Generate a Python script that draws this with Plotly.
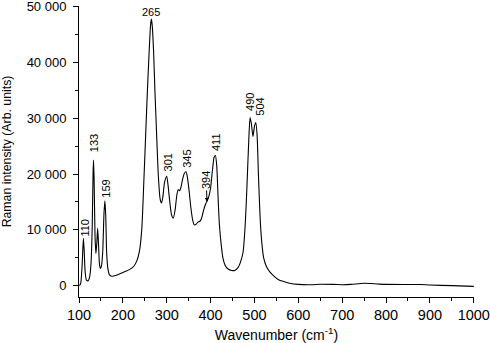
import plotly.graph_objects as go

wavenumber = [101, 104, 107, 110, 112, 114, 117, 121, 124, 127, 130, 132, 133, 134.5, 136.5, 138.5,
              140.5, 142.5, 144.5, 146.5, 148.5, 151, 154, 157, 159, 161, 163, 166, 170, 176,
              185, 200, 215, 225, 232, 238, 243, 248, 252, 256, 260, 263, 265, 267, 270, 273,
              277, 281, 285, 288, 291, 295, 300, 303, 307, 311, 315, 319, 323, 326, 329, 332,
              336, 340, 344, 347, 351, 355, 359, 363, 367, 371, 375, 379, 384, 388, 392, 396,
              400, 404, 408, 411, 414, 417, 420, 424, 428, 433, 440, 448, 455, 462, 468, 474,
              479, 483, 487, 490, 493, 496.5, 500, 503, 506, 509, 513, 517, 521, 527, 535, 545,
              555, 565, 580, 600, 630, 650, 680, 700, 720, 750, 780, 800, 850, 880, 900, 950, 1000]
intensity = [0, 500, 3500, 8500, 6000, 2500, 1000, 900, 1500, 3500, 10000, 20000, 22500, 19000, 9000, 5800,
             7500, 10300, 7500, 4000, 3100, 3500, 6000, 13000, 15200, 12500, 6000, 3000, 1900, 1700,
             1900, 2400, 2900, 3500, 4500, 6300, 10000, 19000, 27000, 35000, 42000, 46500, 47700, 46500, 42000, 35000,
             27000, 19500, 15500, 14800, 15800, 18500, 19600, 18000, 15000, 12700, 12100, 13500, 16200, 17200, 17000, 17500,
             19000, 20100, 20400, 19500, 17000, 14000, 11800, 10900, 11000, 11400, 11500, 12000, 13500, 14500, 15200, 16000,
             17500, 20500, 23000, 23300, 21500, 16000, 11000, 7500, 5000, 3700, 3000, 2750, 2750, 3200, 4200, 6000,
             11000, 18000, 26000, 30100, 29000, 26700, 28500, 29200, 27000, 20000, 12000, 7500, 5000, 3500, 2500, 1700,
             1100, 800, 450, 250, 200, 280, 250, 200, 250, 450, 330, 250, 230, 230, 150, 30, -100]

peak_labels = ["110", "133", "159", "265", "301", "345", "411", "490", "504"]
label_x = [113.5, 134, 159.5, 264.8, 302, 346, 411, 491, 512]
label_y = [10400, 25500, 17400, 49000, 22000, 22700, 25800, 32800, 32000]
label_angle = [-90, -90, -90, 0, -90, -90, -90, -90, -90]

x_ticks = [100, 200, 300, 400, 500, 600, 700, 800, 900, 1000]
y_ticks = [0, 10000, 20000, 30000, 40000, 50000]
y_tick_text = ["0", "10 000", "20 000", "30 000", "40 000", "50 000"]

FONT = "Liberation Sans, Arial, sans-serif"

fig = go.Figure()
fig.add_trace(go.Scatter(x=wavenumber, y=intensity, mode="lines",
                         line=dict(color="black", width=1.1, shape="spline", smoothing=0.6),
                         hoverinfo="skip", showlegend=False))

for t, xx, yy, a in zip(peak_labels, label_x, label_y, label_angle):
    fig.add_annotation(x=xx, y=yy, text=t, textangle=a, showarrow=False,
                       font=dict(family=FONT, size=11, color="black"))

fig.add_annotation(x=392, y=15000, text="394", textangle=-90, showarrow=True,
                   ax=-1, ay=-22, arrowhead=2, arrowsize=0.8, arrowwidth=1, arrowcolor="black",
                   font=dict(family=FONT, size=11, color="black"))

fig.update_layout(
    width=490, height=343,
    margin=dict(l=79, r=16, t=6, b=46, autoexpand=False),
    paper_bgcolor="white", plot_bgcolor="white",
    font=dict(family=FONT, size=13, color="black"),
    xaxis=dict(range=[100, 1000.5], tickvals=x_ticks, ticks="outside", ticklen=5, tickwidth=1,
               tickcolor="black", showline=True, linecolor="black", linewidth=1,
               showgrid=False, zeroline=False, tickfont=dict(size=14.5), automargin=False,
               minor=dict(dtick=50, tick0=100, ticks="outside", ticklen=3, tickcolor="black", showgrid=False),
               title=dict(text="Wavenumber (cm<sup>-1</sup>)", font=dict(size=14), standoff=7)),
    yaxis=dict(range=[-2000, 50050], tickvals=y_ticks, ticktext=y_tick_text, ticks="outside",
               ticklen=5, tickwidth=1, tickcolor="black", showline=True, linecolor="black",
               linewidth=1, showgrid=False, zeroline=False, tickfont=dict(size=13),
               ticklabelstandoff=4, ticklabeloverflow="allow", automargin=False,
               minor=dict(dtick=5000, tick0=0, ticks="outside", ticklen=3, tickcolor="black", showgrid=False),
               title=dict(text="Raman intensity (Arb. units)", font=dict(size=12.3), standoff=12)),
)

fig.write_html("out.html", config={"displayModeBar": False},
               post_script="document.body.style.margin='0';document.body.style.padding='0';")
